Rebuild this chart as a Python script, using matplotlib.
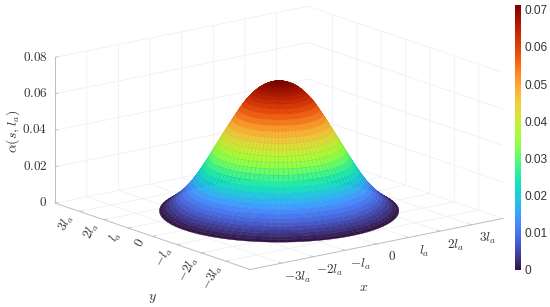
import numpy as np
import matplotlib
matplotlib.use("Agg")
import matplotlib.pyplot as plt
from matplotlib import cm, colors
from matplotlib.transforms import ScaledTranslation

plt.rcParams['mathtext.fontset'] = 'cm'
plt.rcParams['font.family'] = ['Liberation Sans', 'DejaVu Sans']

radius = [0, .083, .167, .25, .333, .417, .5, .583, .667, .75, .833, .917, 1.0,
          1.083, 1.167, 1.25, 1.333, 1.417, 1.5, 1.583, 1.667, 1.75, 1.833, 1.917, 2.0,
          2.083, 2.167, 2.25, 2.333, 2.417, 2.5, 2.583, 2.667, 2.75, 2.833, 2.917, 3.0]
alpha_values = [.0708, .0707, .0704, .0699, .0692, .0683, .0672, .0658, .0642, .0624, .0604, .0581, .0555,
                .0528, .0500, .0472, .0443, .0414, .0385, .0355, .0325, .0295, .0266, .0238, .0210,
                .0184, .0160, .0135, .0115, .0096, .0078, .0062, .0048, .0035, .0022, .0010, 0.0]
colorbar_max = 0.0713
ticks_xy = [-3, -2, -1, 0, 1, 2, 3]
labels_xy = [r'$-3l_a$', r'$-2l_a$', r'$-l_a$', r'$0$', r'$l_a$', r'$2l_a$', r'$3l_a$']
ticks_z = [0, .02, .04, .06, .08]
labels_z = [r'$0$', r'$0.02$', r'$0.04$', r'$0.06$', r'$0.08$']
cbar_ticks = [0, .01, .02, .03, .04, .05, .06, .07]
cbar_labels = ['0', '0.01', '0.02', '0.03', '0.04', '0.05', '0.06', '0.07']
n_meridians = 90
text_color = '#333333'
line_color = '#bdbdbd'

fig = plt.figure(figsize=(5.5, 3.07), dpi=100)
ax = fig.add_axes([0, (153.5 - 142) / 307, 1, 1], projection='3d', proj_type='ortho')
ax.view_init(elev=15.2, azim=-127.6)
ax.set_box_aspect((319, 319, 151), zoom=1.506)
ax.set_xlim(-4, 4); ax.set_ylim(-4, 4); ax.set_zlim(0, .08)

theta = np.linspace(0, 2 * np.pi, n_meridians + 1)
R, T = np.meshgrid(radius, theta)
Z = np.tile(alpha_values, (n_meridians + 1, 1))
norm = colors.Normalize(0, colorbar_max)
turbo = plt.get_cmap('turbo')
face = turbo(norm((Z[:-1, :-1] + Z[:-1, 1:]) / 2))
surf = ax.plot_surface(R * np.cos(T), R * np.sin(T), Z, rstride=1, cstride=1, facecolors=face,
                       linewidth=0.25, antialiased=True, shade=False)
edge = face.reshape(-1, 4).copy()
edge[:, :3] *= 0.93
surf.set_edgecolors(edge)

ax.set_xticks(ticks_xy); ax.set_xticklabels(labels_xy, fontsize=9.5, color=text_color)
ax.set_yticks(ticks_xy); ax.set_yticklabels(labels_xy, fontsize=9.5, color=text_color, rotation=62)
ax.set_zticks(ticks_z); ax.set_zticklabels(labels_z, fontsize=9.5, color=text_color, ha='right', va='center')
ax.tick_params(axis='x', pad=-4.5, color=line_color)
ax.tick_params(axis='y', pad=-6.7, color=line_color)
ax.tick_params(axis='z', pad=-6, color=line_color)
for a in (ax.xaxis, ax.yaxis, ax.zaxis):
    a.set_pane_color((1, 1, 1, 0))
    a.pane.set_edgecolor((1, 1, 1, 0))
    a.line.set_color(line_color); a.line.set_linewidth(0.7)
    a._axinfo['grid'].update(color='#f0f0f0', linewidth=0.6)
    a._axinfo['tick'].update(inward_factor=0.0, outward_factor=0.15,
                             linewidth={True: 0.6, False: 0.4})


def shift_tick_labels(axis, dx_px, dy_px):
    """Axis3D resets label transforms in get_major_ticks, so re-apply the shift after it."""
    original = axis.get_major_ticks
    shift = ScaledTranslation(dx_px / 100, dy_px / 100, fig.dpi_scale_trans)

    def get_major_ticks(numticks=None):
        ticks = original(numticks)
        for tick in ticks:
            tick.label1.set_transform(ax.transData + shift)
        return ticks
    axis.get_major_ticks = get_major_ticks


shift_tick_labels(ax.xaxis, 10, 0)
shift_tick_labels(ax.yaxis, -10, 2)

fig.text(364 / 550, 1 - 287 / 307, r'$x$', fontsize=10, color=text_color, ha='center', va='center')
fig.text(152.5 / 550, 1 - 298 / 307, r'$y$', fontsize=10, color=text_color, ha='center', va='center')
fig.text(13.5 / 550, 1 - 131 / 307, r'$\alpha(s,l_a)$', fontsize=10, color=text_color,
         rotation=90, ha='center', va='center')

cax = fig.add_axes([515 / 550, 1 - 270 / 307, 6 / 550, 265 / 307])
cb = fig.colorbar(cm.ScalarMappable(norm=norm, cmap='turbo'), cax=cax)
cb.outline.set_visible(False)
cb.set_ticks(cbar_ticks, labels=cbar_labels)
cb.ax.tick_params(length=0, pad=2.2, labelsize=8.6, labelcolor=text_color)
fig.savefig('out.png', dpi=100)
